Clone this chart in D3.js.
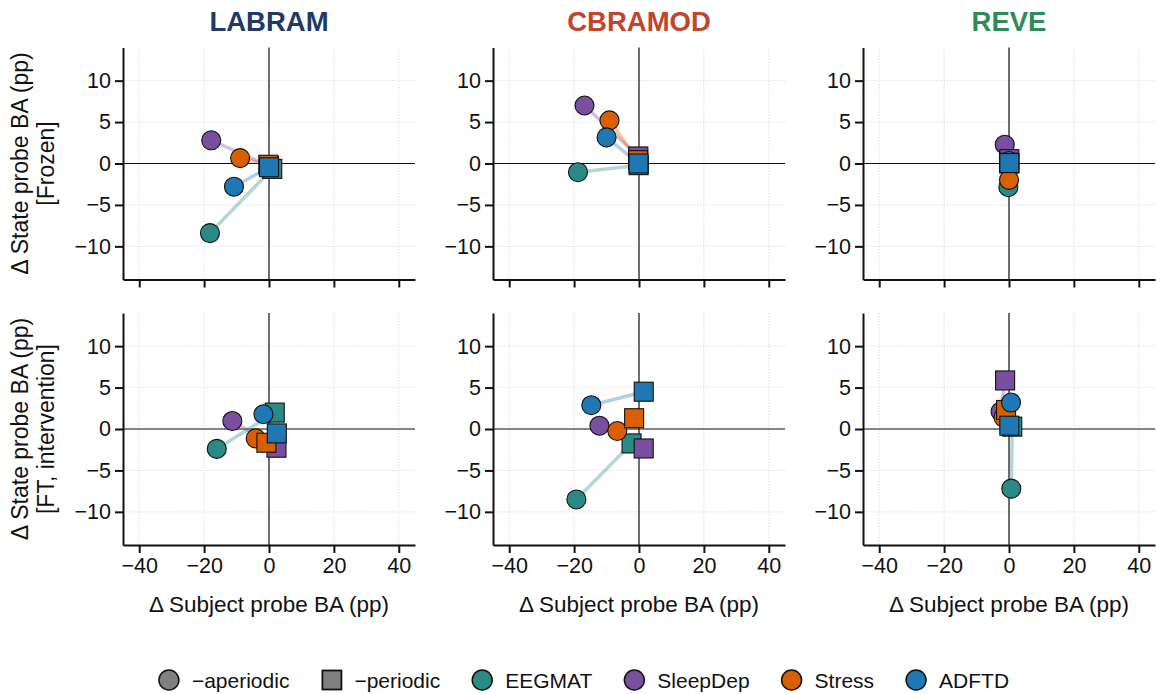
<!DOCTYPE html>
<html><head><meta charset="utf-8">
<script src="https://cdn.jsdelivr.net/npm/d3@7"></script>
<style>
body{margin:0;background:#fff}
svg{display:block}
text{font-family:"Liberation Sans",Arial,sans-serif;fill:#111}
</style>
</head><body><svg id="chart" width="1156" height="694"></svg>
<script>
// ---- data ----
const models = ["LABRAM", "CBRAMOD", "REVE"];
const modelColors = ["#203a63", "#c0452b", "#2e8b57"];
const rowNames = ["Frozen", "FT, intervention"];
const yLabelMain = "Δ State probe BA (pp)";
const xLabel = "Δ Subject probe BA (pp)";
const datasets = ["EEGMAT", "SleepDep", "Stress", "ADFTD"];
const datasetColors = ["#2b8a86", "#7a4f9f", "#d95f02", "#1f78b4"];
const xTicks = [-40, -20, 0, 20, 40];
const yTicks = [-10, -5, 0, 5, 10];

// [Δ subject BA, Δ state BA] per dataset (EEGMAT, SleepDep, Stress, ADFTD)
const LABRAM_frozen_aperiodic  = [[-18.2, -8.4], [-17.8, 2.8], [-8.9, 0.65], [-10.8, -2.8]];
const LABRAM_frozen_periodic   = [[1.0, -0.65], [0.0, -0.3], [-0.2, -0.15], [0.0, -0.45]];
const CBRAMOD_frozen_aperiodic = [[-18.8, -1.05], [-16.8, 7.0], [-9.1, 5.2], [-10.0, 3.15]];
const CBRAMOD_frozen_periodic  = [[-0.1, -0.2], [-0.2, 0.85], [-0.3, 0.4], [-0.15, 0.0]];
const REVE_frozen_aperiodic    = [[-0.2, -2.86], [-1.3, 2.27], [0.0, -1.98], [0.0, 0.3]];
const REVE_frozen_periodic     = [[0.1, 0.0], [0.1, 0.53], [0.0, 0.1], [0.1, 0.05]];
const LABRAM_ft_aperiodic      = [[-16.1, -2.4], [-11.3, 0.97], [-4.1, -1.13], [-1.7, 1.78]];
const LABRAM_ft_periodic       = [[1.76, 1.98], [2.3, -2.26], [-0.8, -1.66], [2.4, -0.53]];
const CBRAMOD_ft_aperiodic     = [[-19.3, -8.5], [-12.2, 0.4], [-6.7, -0.24], [-14.7, 2.87]];
const CBRAMOD_ft_periodic      = [[-2.3, -1.74], [1.45, -2.35], [-1.5, 1.3], [1.45, 4.5]];
const REVE_ft_aperiodic        = [[0.7, -7.2], [-2.6, 2.1], [-1.7, 1.4], [0.62, 3.19]];
const REVE_ft_periodic         = [[1.0, 0.28], [-1.2, 5.86], [-0.9, 2.3], [0.1, 0.4]];

const panels = [
  [[LABRAM_frozen_aperiodic, LABRAM_frozen_periodic], [CBRAMOD_frozen_aperiodic, CBRAMOD_frozen_periodic], [REVE_frozen_aperiodic, REVE_frozen_periodic]],
  [[LABRAM_ft_aperiodic, LABRAM_ft_periodic], [CBRAMOD_ft_aperiodic, CBRAMOD_ft_periodic], [REVE_ft_aperiodic, REVE_ft_periodic]]
];

// ---- layout ----
const svg = d3.select("#chart");
const colX = [123, 493, 863];
const rowY = [47.5, 313];
const pw = 292, ph = 232;
const x = d3.scaleLinear().domain([-45, 45]).range([0, pw]);
const y = d3.scaleLinear().domain([-14, 14]).range([ph, 0]);
const fmt = d => d < 0 ? "\u2212" + Math.abs(d) : String(d);
const R = 9.5, S = 19;

models.forEach((m, c) => {
  svg.append("text")
    .attr("x", colX[c] + pw / 2).attr("y", 31)
    .attr("text-anchor", "middle")
    .style("font-size", "27.5px").style("font-weight", "bold")
    .style("fill", modelColors[c])
    .text(m);
});

rowNames.forEach((rn, r) => {
  const cy = rowY[r] + ph / 2;
  const t = svg.append("text")
    .attr("transform", `translate(0,${cy}) rotate(-90)`)
    .attr("text-anchor", "middle")
    .style("font-size", "23px");
  t.append("tspan").attr("x", 0).attr("y", 28).text(yLabelMain);
  t.append("tspan").attr("x", 0).attr("y", 54).text("[" + rn + "]");

  models.forEach((m, c) => {
    const g = svg.append("g").attr("transform", `translate(${colX[c]},${rowY[r]})`);
    // grid
    g.append("g").selectAll("line").data(xTicks).join("line")
      .attr("x1", d => x(d)).attr("x2", d => x(d)).attr("y1", 0).attr("y2", ph)
      .attr("stroke", "#d0d0d0").attr("stroke-width", 0.8).attr("stroke-dasharray", "1.2,1.6");
    g.append("g").selectAll("line").data(yTicks).join("line")
      .attr("y1", d => y(d)).attr("y2", d => y(d)).attr("x1", 0).attr("x2", pw)
      .attr("stroke", "#d0d0d0").attr("stroke-width", 0.8).attr("stroke-dasharray", "1.2,1.6");
    // zero lines
    g.append("line").attr("x1", x(0)).attr("x2", x(0)).attr("y1", 0).attr("y2", ph)
      .attr("stroke", "#111").attr("stroke-width", 1.2);
    g.append("line").attr("x1", 0).attr("x2", pw).attr("y1", y(0)).attr("y2", y(0))
      .attr("stroke", "#111").attr("stroke-width", 1.2);
    // axes
    const xa = g.append("g").attr("transform", `translate(0,${ph})`)
      .call(d3.axisBottom(x).tickValues(xTicks).tickSize(8).tickSizeOuter(0).tickPadding(5)
        .tickFormat(r === 1 ? fmt : () => ""));
    const ya = g.append("g")
      .call(d3.axisLeft(y).tickValues(yTicks).tickSize(8).tickSizeOuter(0).tickPadding(4).tickFormat(fmt));
    [xa, ya].forEach(a => {
      a.select(".domain").attr("stroke", "#111").attr("stroke-width", 2);
      a.selectAll(".tick line").attr("stroke", "#111").attr("stroke-width", 2);
      a.selectAll(".tick text").style("font-size", "21.5px").style("fill", "#111");
    });
    if (r === 1) {
      g.append("text").attr("x", pw / 2).attr("y", ph + 67)
        .attr("text-anchor", "middle").style("font-size", "22.5px").text(xLabel);
    }
    const [aper, per] = panels[r][c];
    // connecting lines
    g.append("g").selectAll("line").data(datasets).join("line")
      .attr("x1", (d, i) => x(aper[i][0])).attr("y1", (d, i) => y(aper[i][1]))
      .attr("x2", (d, i) => x(per[i][0])).attr("y2", (d, i) => y(per[i][1]))
      .attr("stroke", (d, i) => datasetColors[i]).attr("stroke-opacity", 0.35)
      .attr("stroke-width", 3.5);
    // markers, per dataset: circle then square
    datasets.forEach((ds, i) => {
      g.append("circle").attr("cx", x(aper[i][0])).attr("cy", y(aper[i][1])).attr("r", R)
        .attr("fill", datasetColors[i]).attr("stroke", "#111").attr("stroke-width", 1.1);
      g.append("rect").attr("x", x(per[i][0]) - S / 2).attr("y", y(per[i][1]) - S / 2)
        .attr("width", S).attr("height", S)
        .attr("fill", datasetColors[i]).attr("stroke", "#111").attr("stroke-width", 1.1);
    });
  });
});

// ---- legend ----
const legendItems = [
  {label: "\u2212aperiodic", shape: "circle", color: "#808080"},
  {label: "\u2212periodic", shape: "square", color: "#808080"},
  ...datasets.map((d, i) => ({label: d, shape: "circle", color: datasetColors[i]}))
];
const lg = svg.append("g");
let cx = 0;
const ly = 680;
legendItems.forEach((it, i) => {
  const item = lg.append("g").attr("transform", `translate(${cx},0)`);
  if (it.shape === "circle") {
    item.append("circle").attr("cx", 10).attr("cy", ly).attr("r", 10)
      .attr("fill", it.color).attr("stroke", "#111").attr("stroke-width", 1.5);
  } else {
    item.append("rect").attr("x", 1).attr("y", ly - 9.5).attr("width", 19).attr("height", 19)
      .attr("fill", it.color).attr("stroke", "#111").attr("stroke-width", 1.8);
  }
  const t = item.append("text").attr("x", 33).attr("y", ly + 7.5).style("font-size", "21px").text(it.label);
  cx += 33 + t.node().getComputedTextLength() + 32;
});
const totalW = cx - 32;
lg.attr("transform", `translate(${584 - totalW / 2},0)`);
</script>
</body></html>
